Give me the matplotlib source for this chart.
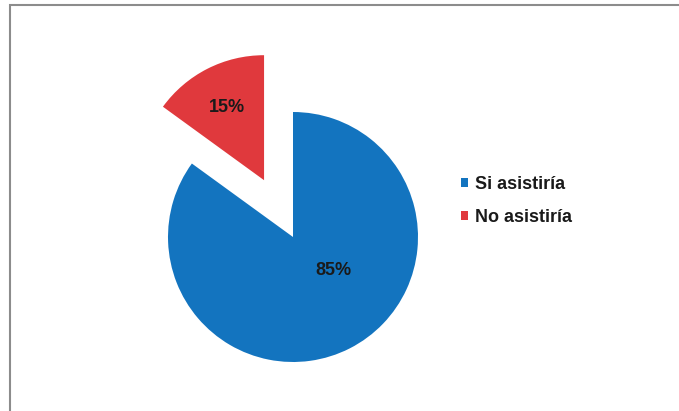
import numpy as np
import matplotlib.pyplot as plt
from matplotlib.patches import Rectangle

labels = ["Si asistiría", "No asistiría"]
values = [85, 15]
colors = ["#1374BF", "#E0393D"]
explode = [0, 0.51]

W, H = 679, 411
cx, cy, r = 293, 237, 125  # pie centre and radius in pixels

fig = plt.figure(figsize=(W / 100, H / 100), dpi=100)
fig.patch.set_facecolor("white")
ax = fig.add_axes([0, 0, 1, 1])

wedges, texts, autotexts = ax.pie(
    values, colors=colors, explode=explode, startangle=90, counterclock=False,
    autopct="%1.0f%%", pctdistance=0.65,
    textprops=dict(fontsize=13, fontweight="bold", color="#1a1a1a",
                   family=["Liberation Sans", "DejaVu Sans"]),
    wedgeprops=dict(linewidth=0),
)
# Excel puts the big slice's label off its bisector
ang = np.deg2rad(-40)
autotexts[0].set_position((0.42 * np.cos(ang), 0.42 * np.sin(ang)))

ax.set_xlim(-cx / r, (W - cx) / r)
ax.set_ylim(-(H - cy) / r, cy / r)
ax.set_aspect("equal")
ax.axis("off")

leg = fig.legend(wedges, labels, loc="center left",
                 bbox_to_anchor=(461 / W, 1 - 201 / H), frameon=False,
                 handlelength=0.4, handleheight=0.4, handletextpad=0.35,
                 labelspacing=0.9, borderpad=0, borderaxespad=0,
                 prop=dict(size=13, weight="bold", family=["Liberation Sans", "DejaVu Sans"]))
for t in leg.get_texts():
    t.set_color("#1a1a1a")

# outer frame of the chart area
fig.patches.append(Rectangle((10 / W, -0.1), 1.2, 1.1 - 5 / H, transform=fig.transFigure,
                             fill=False, edgecolor="#8c8c8c", linewidth=1.5))

fig.savefig("out.png", dpi=100)
